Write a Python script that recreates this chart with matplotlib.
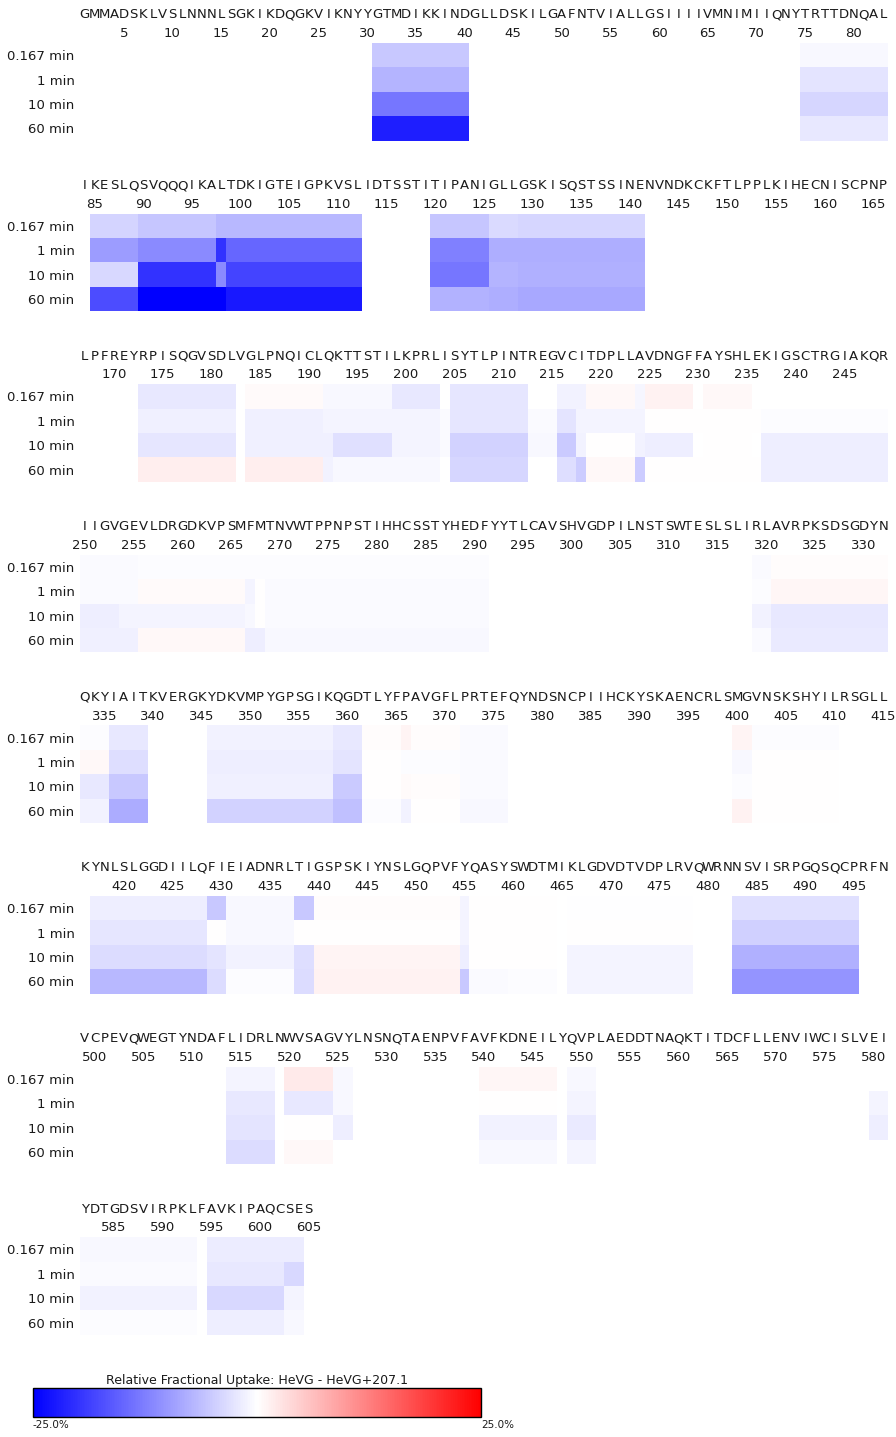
import numpy as np
import matplotlib
matplotlib.use('Agg')
import matplotlib.pyplot as plt
from matplotlib.colors import Normalize
from matplotlib.cm import ScalarMappable

# protein sequence, 83 residues per line
seq_rows = [
    "GMMADSKLVSLNNNLSGKIKDQGKVIKNYYGTMDIKKINDGLLDSKILGAFNTVIALLGSIIIIVMNIMIIQNYTRTTDNQAL",
    "IKESLQSVQQQIKALTDKIGTEIGPKVSLIDTSSTITIPANIGLLGSKISQSTSSINENVNDKCKFTLPPLKIHECNISCPNP",
    "LPFREYRPISQGVSDLVGLPNQICLQKTTSTILKPRLISYTLPINTREGVCITDPLLAVDNGFFAYSHLEKIGSCTRGIAKQR",
    "IIGVGEVLDRGDKVPSMFMTNVWTPPNPSTIHHCSSTYHEDFYYTLCAVSHVGDPILNSTSWTESLSLIRLAVRPKSDSGDYN",
    "QKYIAITKVERGKYDKVMPYGPSGIKQGDTLYFPAVGFLPRTEFQYNDSNCPIIHCKYSKAENCRLSMGVNSKSHYILRSGLL",
    "KYNLSLGGDIILQFIEIADNRLTIGSPSKIYNSLGQPVFYQASYSWDTMIKLGDVDTVDPLRVQWRNNSVISRPGQSQCPRFN",
    "VCPEVQWEGTYNDAFLIDRLNWVSAGVYLNSNQTAENPVFAVFKDNEILYQVPLAEDDTNAQKTITDCFLLENVIWCISLVEI",
    "YDTGDSVIRPKLFAVKIPAQCSES",
]
sequence = ''.join(seq_rows)
row_len = 83

times = ['0.167 min', '1 min', '10 min', '60 min']

# (first residue, last residue, relative fractional uptake % per time point; None = no coverage)
peptides = [
    (31, 40, [-5.4, -7.4, -13.3, -21.9]),
    (75, 83, [-0.7, -2.7, -4.1, -2.3]),
    (85, 89, [-4.2, -9.6, -3.8, -17.5]),
    (90, 97, [-5.6, -11.5, -20.0, -25.0]),
    (98, 98, [-7.0, -20.0, -11.5, -25.0]),
    (99, 112, [-7.0, -15.0, -18.2, -22.5]),
    (120, 125, [-5.6, -12.5, -13.3, -7.5]),
    (126, 128, [-3.6, -8.0, -7.3, -8.0]),
    (129, 141, [-4.0, -8.0, -7.7, -8.5]),
    (173, 182, [-2.3, -1.5, -2.5, 1.7]),
    (184, 191, [0.4, -1.5, -1.5, 1.7]),
    (192, 192, [-0.7, -1.0, -1.5, -1.2]),
    (193, 198, [-0.7, -1.0, -3.0, -0.7]),
    (199, 203, [-2.3, -1.0, -1.0, -0.7]),
    (204, 204, [None, -0.5, -0.5, None]),
    (205, 212, [-2.5, -2.5, -4.4, -4.1]),
    (213, 215, [None, -0.5, -0.7, None]),
    (216, 217, [-1.2, -2.7, -5.1, -3.3]),
    (218, 218, [-1.2, -1.0, -1.2, -4.9]),
    (219, 223, [0.6, -1.0, 0.0, 0.6]),
    (224, 224, [-0.9, -1.0, -1.2, -4.9]),
    (225, 229, [1.2, 0.1, -1.6, 0.1]),
    (230, 230, [None, 0.0, None, 0.0]),
    (231, 235, [0.6, 0.0, 0.0, 0.0]),
    (236, 236, [None, 0.0, None, 0.0]),
    (237, 249, [None, -0.3, -1.6, -1.6]),
    (250, 253, [-0.5, -0.5, -1.7, -1.5]),
    (254, 255, [-0.5, -0.5, -1.0, -1.5]),
    (256, 266, [-0.3, 0.5, -1.0, 0.7]),
    (267, 267, [-0.3, -1.0, -0.7, -1.7]),
    (268, 268, [-0.3, 0.0, 0.0, -1.7]),
    (269, 291, [-0.3, -0.5, -0.5, -0.7]),
    (319, 320, [-0.5, -0.2, -1.2, -0.5]),
    (321, 332, [0.2, 0.9, -2.3, -2.0]),
    (333, 335, [-0.3, 0.7, -2.3, -1.2]),
    (336, 339, [-2.3, -3.2, -5.4, -8.2]),
    (346, 358, [-1.2, -1.7, -1.5, -4.3]),
    (359, 361, [-2.3, -2.7, -5.1, -6.2]),
    (362, 365, [0.3, 0.0, 0.0, -0.3]),
    (366, 366, [1.0, -0.3, 0.4, -1.2]),
    (367, 371, [0.2, -0.3, 0.3, 0.0]),
    (372, 376, [-0.5, -0.5, -0.5, -0.7]),
    (400, 401, [1.0, -0.7, -0.3, 1.2]),
    (402, 410, [-0.3, 0.0, 0.0, 0.1]),
    (417, 428, [-1.7, -2.5, -3.4, -7.0]),
    (429, 430, [-5.4, 0.0, -2.7, -3.4]),
    (431, 437, [-0.7, -0.7, -1.2, -0.3]),
    (438, 439, [-5.4, 0.0, -3.2, -3.4]),
    (440, 454, [0.3, 0.1, 1.0, 1.2]),
    (455, 455, [-1.0, -1.0, -1.6, -5.4]),
    (456, 459, [0.0, 0.0, 0.0, -0.5]),
    (460, 464, [0.0, 0.0, 0.0, -0.3]),
    (466, 478, [-0.1, 0.0, -1.0, -1.0]),
    (483, 495, [-3.1, -4.6, -7.7, -10.4]),
    (514, 518, [-1.0, -2.3, -2.7, -3.4]),
    (520, 524, [2.0, -2.3, 0.0, 0.6]),
    (525, 526, [-0.7, -0.7, -1.6, None]),
    (540, 547, [0.8, 0.0, -1.2, -0.7]),
    (549, 551, [-0.7, -1.0, -2.0, -1.0]),
    (580, 581, [None, -1.0, -1.6, None]),
    (582, 593, [-0.7, -0.5, -1.2, -0.3]),
    (595, 602, [-1.9, -2.3, -3.8, -1.7]),
    (603, 604, [-1.9, -3.8, -1.0, -0.7]),
]

uptake = np.full((len(times), len(sequence) + 1), np.nan)
for first, last, vals in peptides:
    for t, v in enumerate(vals):
        if v is not None:
            uptake[t, first:last + 1] = v

font = 'DejaVu Sans'
txt_color = '#1a1a1a'
W, H = 896, 1437
fig = plt.figure(figsize=(W / 100, H / 100), dpi=100)

cmap = plt.get_cmap('bwr')
norm = Normalize(vmin=-25, vmax=25)

for k in range(len(seq_rows)):
    first = 1 + k * row_len
    last = min(first + row_len - 1, len(sequence))
    top = 43 + 170.6 * k
    ax = fig.add_axes([80 / W, 1 - (top + 97.5) / H, 808 / W, 97.5 / H])

    block = np.full((len(times), row_len), np.nan)
    block[:, :last - first + 1] = uptake[:, first:last + 1]
    xe = np.arange(first - 0.5, first + row_len)
    ax.pcolormesh(xe, np.arange(len(times) + 1), np.ma.masked_invalid(block),
                  cmap=cmap, norm=norm)
    ax.set_xlim(first - 0.5, first + row_len - 0.5)
    ax.set_ylim(len(times), 0)
    for s in ax.spines.values():
        s.set_visible(False)

    ticks = [r for r in range(first, last + 1) if r % 5 == 0]
    ax.xaxis.tick_top()
    ax.set_xticks(ticks)
    ax.set_xticklabels([str(r) for r in ticks], fontfamily=font, fontsize=9.5,
                       color=txt_color)
    ax.tick_params(axis='x', length=0, pad=2)
    ax.set_yticks(np.arange(len(times)) + 0.5)
    ax.set_yticklabels(times, fontfamily=font, fontsize=9.5, color=txt_color)
    ax.tick_params(axis='y', length=0, pad=4)

    tr = ax.get_xaxis_transform()
    for i, aa in enumerate(sequence[first - 1:last]):
        ax.text(first + i, 1 + 28 / 97.5, aa, transform=tr, ha='center', va='center',
                fontfamily=font, fontsize=9.5, color=txt_color)

# colour scale
cax = fig.add_axes([33 / W, 1 - 1417 / H, 448 / W, 29 / H])
cb = fig.colorbar(ScalarMappable(norm=norm, cmap=cmap), cax=cax, orientation='horizontal')
cb.outline.set_edgecolor('black')
cb.outline.set_linewidth(1)
cb.set_ticks([-25, 25])
cb.set_ticklabels(['-25.0%', '25.0%'])
cax.tick_params(length=0, pad=2, labelsize=7.5, labelcolor=txt_color)
for lab in cax.get_xticklabels():
    lab.set_horizontalalignment('left')
    lab.set_fontfamily(font)
cax.set_title('Relative Fractional Uptake: HeVG - HeVG+207.1', fontsize=9,
              fontfamily=font, color=txt_color, pad=3)

fig.savefig('out.png', dpi=100)
